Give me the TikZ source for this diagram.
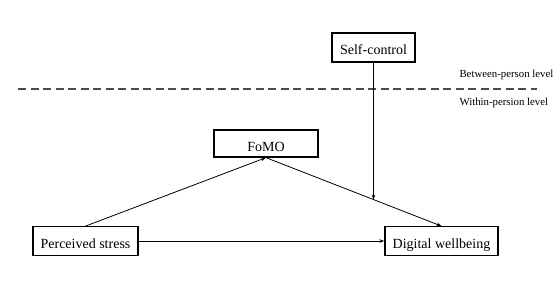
\documentclass[tikz,border=0pt]{standalone}
\usepackage{fontspec}
\setmainfont{Liberation Serif}
\usetikzlibrary{arrows.meta}
\begin{document}
\begin{tikzpicture}[x=1pt,y=-1pt,
  box/.style={draw,line width=1.3pt,inner sep=0pt,text height=15pt,text depth=0pt,font=\fontsize{14}{16}\selectfont},
  conn/.style={line width=0.8pt,-{Stealth[length=5pt,width=3.5pt]}},
  lvl/.style={font=\fontsize{10.8}{12}\selectfont,anchor=west}]
\useasboundingbox (0,0) rectangle (554,294);
\node[box,minimum width=83pt,minimum height=29pt] (sc) at (373.5,47.5) {Self-control};
\node[box,minimum width=104pt,minimum height=27pt] (fomo) at (266,143.5) {FoMO};
\node[box,minimum width=105pt,minimum height=28.5pt] (ps) at (85.5,241) {Perceived stress};
\node[box,minimum width=113pt,minimum height=28.5pt] (dw) at (441.5,241) {Digital wellbeing};
\coordinate (dl) at (18,89);
\coordinate (dr) at (537,89);
\draw[line width=1.1pt,draw=black!70,dash pattern=on 8pt off 4.5pt] (dl) -- (dr);
\node[lvl] (bp) at (456,75) {Between-person level};
\node[lvl] (wp) at (456,103) {Within-persion level};
\draw[conn] (ps.north) -- (fomo.south);
\draw[conn] (fomo.south) -- (dw.north) coordinate[pos=0.615] (mod);
\draw[conn] (ps.east) -- (dw.west);
\draw[conn] (sc.south) -- (sc.south |- mod);
\end{tikzpicture}
\end{document}
